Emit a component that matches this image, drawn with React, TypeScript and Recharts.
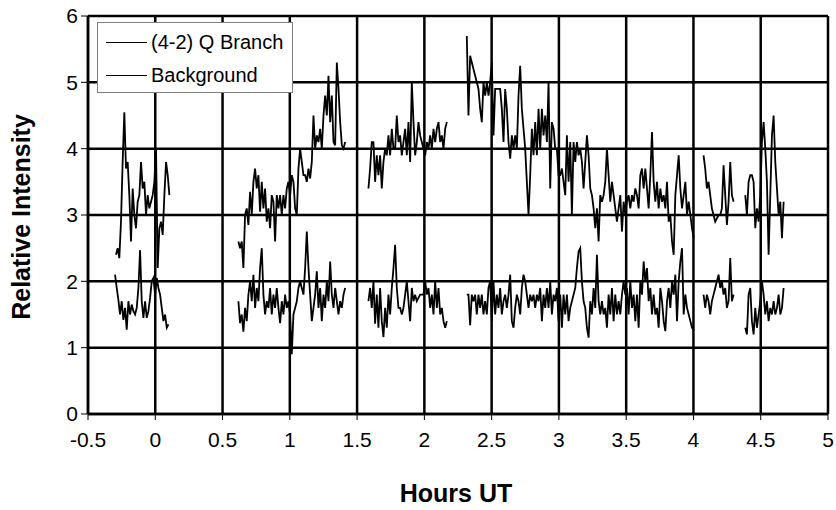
import { LineChart, Line, XAxis, YAxis, CartesianGrid, Legend, Label } from "recharts";

// sampling interval of the record, in hours
const STEP = 0.0124;

const xTicks = [-0.5, 0, 0.5, 1, 1.5, 2, 2.5, 3, 3.5, 4, 4.5, 5];
const yTicks = [0, 1, 2, 3, 4, 5, 6];

// (4-2) Q Branch readings, one list per observing run
const qStarts = [-0.292, 0.6178, 1.5843, 2.3154, 4.075, 4.385];
const qRun1 = [2.4, 2.5, 2.35, 2.9, 3.8, 4.55, 3.7, 3.8, 3.3, 2.6, 3.4, 3.0, 2.8, 3.2, 3.3, 3.8, 3.4, 3.5, 3.0, 3.3, 3.1, 3.2, 3.3, 3.5, 4.0, 2.2, 2.8, 2.9, 2.7, 3.3, 3.8, 3.6, 3.3];
const qRun2 = [2.6, 2.5, 2.6, 2.2, 3.0, 3.1, 2.85, 3.35, 3.0, 3.5, 3.7, 3.4, 3.6, 3.05, 3.5, 3.1, 3.4, 2.9, 3.1, 2.8, 3.3, 3.2, 2.6, 3.3, 3.1, 3.3, 3.0, 3.3, 3.1, 3.4, 3.5, 3.3, 3.6, 3.5, 3.1, 3.0, 3.7, 4.0, 3.8, 3.6, 3.6, 3.5, 3.7, 3.55, 3.8, 4.5, 4.0, 4.2, 4.1, 4.3, 4.0, 4.5, 4.8, 4.5, 5.1, 4.4, 4.8, 4.1, 4.05, 5.3, 4.9, 4.4, 4.05, 4.0, 4.1];
const qRun3 = [3.4, 3.7, 4.1, 4.1, 3.5, 3.9, 3.6, 3.9, 3.4, 3.8, 4.0, 3.9, 4.2, 3.9, 4.3, 4.0, 4.0, 4.5, 4.1, 4.2, 3.9, 4.1, 4.3, 3.9, 4.4, 3.8, 5.0, 4.4, 3.9, 4.1, 4.4, 4.2, 4.1, 4.0, 3.9, 4.1, 4.0, 4.2, 4.0, 4.3, 4.1, 4.3, 4.4, 4.1, 4.2, 4.0, 4.3, 4.4];
const qRun4 = [
  5.7, 4.5, 5.4, 5.3, 5.2, 5.1, 5.0, 4.9, 4.6, 4.4, 5.0, 4.8, 5.0, 4.8, 5.0, 5.3, 4.2, 4.9, 4.9, 4.9, 4.9, 4.6, 4.1, 4.9, 4.6, 4.1, 3.85, 4.2, 4.0, 4.2, 4.0, 4.8, 5.25, 4.6, 4.3, 4.0, 3.5, 3.0, 3.6, 4.3, 3.9, 4.4, 3.9, 4.6, 4.0, 4.6, 4.2, 4.5, 4.1, 5.0, 3.4, 4.4, 4.3, 4.0, 4.0, 3.6, 3.6, 3.7, 3.5, 3.3, 4.2, 3.5, 4.1, 3.0, 4.1, 3.8, 4.1, 3.9,
  4.0, 3.8, 3.4, 3.8, 4.2, 3.9, 3.4, 3.3, 3.1, 2.8, 3.1, 2.6, 3.3, 3.2, 3.3, 3.5, 4.0, 3.6, 3.2, 3.5, 3.3, 3.1, 2.9, 3.1, 3.3, 2.75, 3.2, 3.0, 3.2, 3.3, 3.1, 3.3, 3.2, 3.4, 3.3, 3.1, 3.6, 3.7, 3.4, 3.7, 3.4, 3.1, 3.6, 4.25, 3.5, 3.2, 3.5, 3.1, 3.4, 3.2, 3.3, 3.1, 3.5, 2.9, 3.0, 2.6, 2.4, 3.3, 3.6, 3.9, 3.4, 3.1, 3.3, 3.5, 3.0, 3.2, 3.0, 2.8, 2.65,
];
const qRun5 = [3.9, 3.7, 3.4, 3.5, 3.3, 3.1, 3.0, 2.9, 2.95, 3.0, 3.0, 3.1, 3.75, 3.3, 2.85, 3.2, 3.8, 3.3, 3.2];
const qRun6 = [3.3, 3.0, 3.5, 3.6, 3.6, 3.5, 2.8, 3.1, 2.9, 3.3, 4.1, 4.4, 4.0, 3.5, 2.4, 3.3, 4.2, 4.5, 3.8, 3.4, 3.0, 3.2, 2.65, 3.2];

// Background readings
const bgStarts = [-0.299, 0.6178, 1.5843, 2.3154, 4.075, 4.385];
const bgRun1 = [2.1, 1.9, 1.72, 1.5, 1.7, 1.42, 1.6, 1.27, 1.7, 1.5, 1.65, 1.55, 1.5, 1.6, 1.9, 2.47, 1.7, 1.45, 1.7, 1.45, 1.55, 1.75, 2.0, 2.05, 1.8, 2.05, 1.9, 1.8, 1.6, 1.4, 1.5, 1.3, 1.35];
const bgRun2 = [1.7, 1.37, 1.5, 1.24, 1.6, 1.4, 1.8, 2.0, 1.7, 2.1, 1.6, 1.9, 1.7, 2.2, 2.5, 1.8, 1.5, 1.7, 1.6, 1.9, 1.5, 1.8, 1.6, 1.9, 1.6, 1.37, 1.7, 1.5, 1.8, 1.6, 1.7, 1.5, 0.9, 1.5, 1.6, 1.7, 1.9, 2.0, 1.9, 1.8, 2.2, 2.75, 2.2, 1.8, 1.4, 1.6, 1.8, 2.15, 1.6, 1.9, 1.4, 1.8, 1.6, 2.0, 1.7, 2.3, 1.8, 1.6, 1.9, 1.7, 1.5, 1.7, 1.6, 1.8, 1.9];
const bgRun3 = [1.7, 1.9, 1.6, 2.0, 1.36, 1.8, 1.3, 1.9, 1.4, 1.16, 1.6, 1.3, 1.8, 1.5, 1.9, 2.2, 2.55, 1.9, 1.6, 1.6, 1.5, 1.6, 1.8, 2.0, 1.7, 1.4, 1.9, 1.7, 1.8, 1.7, 1.75, 1.8, 1.8, 1.8, 2.0, 1.8, 1.9, 1.6, 1.8, 1.5, 2.0, 1.6, 1.9, 1.5, 1.6, 1.4, 1.3, 1.4];
const bgRun4 = [
  1.8, 1.8, 1.34, 1.8, 1.7, 1.8, 1.5, 1.8, 1.6, 1.8, 1.5, 1.7, 1.5, 1.9, 2.0, 1.4, 2.0, 1.5, 1.8, 1.6, 1.9, 1.5, 1.7, 1.8, 1.6, 1.8, 2.1, 1.4, 1.3, 1.6, 1.8, 1.7, 1.5, 1.9, 2.1, 2.0, 1.8, 1.6, 1.8, 1.7, 1.8, 1.6, 1.8, 1.7, 1.9, 1.4, 1.8, 1.6, 1.9, 1.6, 2.0, 1.5, 1.8, 1.7, 1.9, 1.4, 1.8, 1.3, 1.8, 1.5, 1.8, 1.4, 1.6, 1.7, 1.8, 1.9, 2.2, 2.45,
  2.5, 2.0, 1.7, 1.6, 1.3, 1.15, 1.7, 1.5, 1.9, 1.6, 2.4, 1.7, 1.5, 1.7, 1.5, 1.6, 1.3, 1.8, 1.5, 1.9, 1.4, 1.8, 1.5, 1.7, 1.5, 1.8, 2.0, 1.8, 1.9, 1.5, 2.0, 1.6, 1.8, 1.4, 1.8, 1.3, 2.0, 1.8, 2.3, 2.0, 2.2, 1.7, 1.9, 1.5, 1.8, 1.5, 1.6, 1.3, 1.9, 1.7, 1.4, 1.25, 1.7, 1.9, 1.6, 2.0, 1.8, 2.1, 1.4, 2.0, 2.3, 2.5, 1.5, 1.8, 1.6, 1.5, 1.4, 1.3, 1.27,
];
const bgRun5 = [1.8, 1.6, 1.8, 1.7, 1.5, 1.7, 1.8, 1.9, 2.0, 2.1, 1.9, 2.0, 1.8, 1.9, 1.6, 1.7, 2.35, 1.7, 1.8];
const bgRun6 = [1.3, 1.2, 1.8, 1.9, 1.4, 1.2, 1.6, 1.3, 1.5, 1.7, 2.0, 1.8, 1.5, 1.7, 1.4, 1.6, 1.5, 1.7, 1.5, 1.6, 1.8, 1.5, 1.6, 1.9];

type Pt = { x: number; y: number | null };

// runs are joined with a null point so the line breaks between them
function joinRuns(starts: number[], runs: number[][]): Pt[] {
  const pts: Pt[] = [];
  runs.forEach((vals, i) => {
    if (i > 0) pts.push({ x: starts[i] - STEP, y: null });
    vals.forEach((v, j) => pts.push({ x: starts[i] + j * STEP, y: v }));
  });
  return pts;
}

const qData = joinRuns(qStarts, [qRun1, qRun2, qRun3, qRun4, qRun5, qRun6]);
const bgData = joinRuns(bgStarts, [bgRun1, bgRun2, bgRun3, bgRun4, bgRun5, bgRun6]);

const FONT = '"Liberation Sans", Arial, sans-serif';
const tickStyle = { fontSize: 21, fill: "#000", fontFamily: FONT };

function LegendBox() {
  const rows = ["(4-2) Q Branch", "Background"];
  return (
    <div
      style={{
        width: 196,
        height: 71,
        boxSizing: "border-box",
        border: "1px solid #7f7f7f",
        background: "#fff",
        position: "relative",
        fontFamily: FONT,
        fontSize: 20,
        color: "#000",
      }}
    >
      {rows.map((r, i) => (
        <div key={r} style={{ position: "absolute", left: 0, top: 9 + i * 33, height: 22, width: 196 }}>
          <div style={{ position: "absolute", left: 8, top: 10, width: 41, borderTop: "1.5px solid #000" }} />
          <span style={{ position: "absolute", left: 53, top: -1, whiteSpace: "nowrap", lineHeight: "22px" }}>{r}</span>
        </div>
      ))}
    </div>
  );
}

function YTitle(props: any) {
  const vb = props.viewBox;
  const cx = vb.x + 21;
  const cy = vb.y + vb.height / 2 + 2;
  return (
    <text
      x={cx}
      y={cy}
      transform={`rotate(-90 ${cx} ${cy})`}
      textAnchor="middle"
      dominantBaseline="central"
      style={{ fontSize: 25, fontWeight: "bold", fontFamily: FONT, fill: "#000" }}
    >
      Relative Intensity
    </text>
  );
}

function XTitle(props: any) {
  const vb = props.viewBox;
  return (
    <text
      x={vb.x + vb.width / 2 - 2}
      y={502}
      textAnchor="middle"
      style={{ fontSize: 25, fontWeight: "bold", fontFamily: FONT, fill: "#000" }}
    >
      Hours UT
    </text>
  );
}

export default function App() {
  return (
    <div style={{ position: "absolute", left: 0, top: 0, width: 836, height: 510, background: "#fff" }}>
      <LineChart width={836} height={510} margin={{ top: 16, right: 8, bottom: 56, left: 0 }}>
        <CartesianGrid stroke="#000" strokeWidth={2.5} />
        <XAxis
          type="number"
          dataKey="x"
          domain={[-0.5, 5]}
          ticks={xTicks}
          interval={0}
          allowDataOverflow
          height={40}
          tick={tickStyle}
          tickSize={6}
          tickMargin={12}
          axisLine={{ stroke: "#000", strokeWidth: 2.5 }}
          tickLine={{ stroke: "#000", strokeWidth: 1 }}
        >
          <Label content={XTitle} />
        </XAxis>
        <YAxis
          type="number"
          domain={[0, 6]}
          ticks={yTicks}
          interval={0}
          width={88}
          tick={tickStyle}
          tickSize={7}
          tickMargin={3}
          axisLine={{ stroke: "#000", strokeWidth: 2.5 }}
          tickLine={{ stroke: "#000", strokeWidth: 1 }}
        >
          <Label content={YTitle} />
        </YAxis>
        <Legend
          layout="vertical"
          align="center"
          verticalAlign="middle"
          wrapperStyle={{ position: "absolute", left: 97, top: 22, width: 196, height: 71 }}
          content={LegendBox}
        />
        <Line
          data={qData}
          dataKey="y"
          name="(4-2) Q Branch"
          stroke="#000"
          strokeWidth={1.8}
          dot={false}
          activeDot={false}
          isAnimationActive={false}
        />
        <Line
          data={bgData}
          dataKey="y"
          name="Background"
          stroke="#000"
          strokeWidth={1.8}
          dot={false}
          activeDot={false}
          isAnimationActive={false}
        />
      </LineChart>
    </div>
  );
}
